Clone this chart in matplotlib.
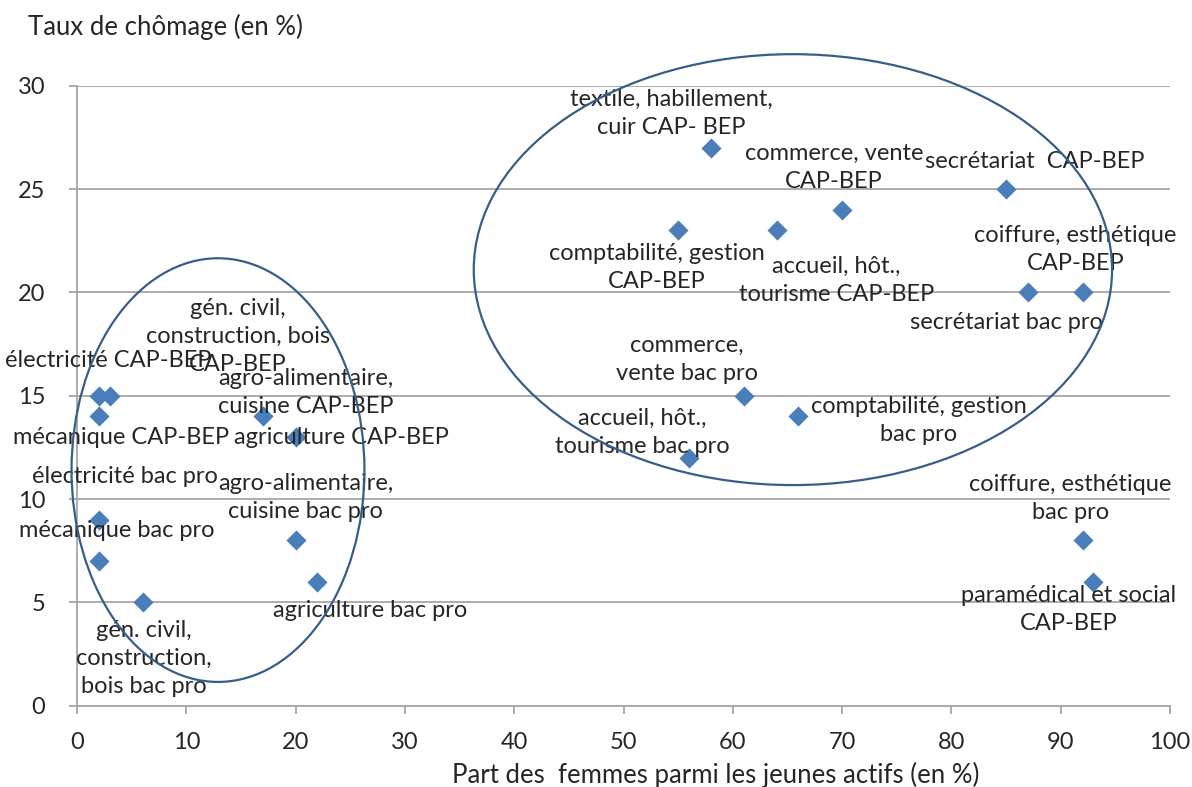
import matplotlib.pyplot as plt
from matplotlib.patches import Ellipse

plt.rcParams["font.family"] = ["Lato", "DejaVu Sans"]

# share of women among young workers (%) and unemployment rate (%)
women_share = [2, 3, 2, 2, 2, 6, 17, 20, 20, 22,
               58, 70, 85, 92, 87, 55, 64, 61, 66, 56, 92, 93]
unemployment = [15, 15, 14, 9, 7, 5, 14, 13, 8, 6,
                27, 24, 25, 20, 20, 23, 23, 15, 14, 12, 8, 6]
labels = [
    "électricité CAP-BEP",
    "gén. civil,\nconstruction, bois\nCAP-BEP",
    "mécanique CAP-BEP",
    "électricité bac pro",
    "mécanique bac pro",
    "gén. civil,\nconstruction,\nbois bac pro",
    "agro-alimentaire,\ncuisine CAP-BEP",
    "agriculture CAP-BEP",
    "agro-alimentaire,\ncuisine bac pro",
    "agriculture bac pro",
    "textile, habillement,\ncuir CAP- BEP",
    "commerce, vente\nCAP-BEP",
    "secrétariat  CAP-BEP",
    "coiffure, esthétique\nCAP-BEP",
    "secrétariat bac pro",
    "comptabilité, gestion\nCAP-BEP",
    "accueil, hôt.,\ntourisme CAP-BEP",
    "commerce,\nvente bac pro",
    "comptabilité, gestion\nbac pro",
    "accueil, hôt.,\ntourisme bac pro",
    "coiffure, esthétique\nbac pro",
    "paramédical et social\nCAP-BEP",
]

# label placement, offset from its point in pixels
label_offsets = [
    (9, 35), (128, 59), (22, -21), (26, 43), (18, 31), (1, -56),
    (43, 24), (46, 0), (10, 43), (53, -29),
    (-40, 34), (-8, 42), (29, 28), (-7, 43), (-21, -30), (-21, -37),
    (60, -50), (-57, 36), (120, -4), (-47, 25), (-12, 42), (-25, -28),
]

# hand-drawn groupings: (center x, center y, width, height)
groups = [(12.9, 11.4, 26.8, 20.5), (65.5, 21.1, 58.4, 20.85)]

text_col = "#262626"
grid_col = "#a6a6a6"

fig = plt.figure(figsize=(11.92, 7.87), dpi=100)
ax = fig.add_axes([77 / 1192, 1 - 705.7 / 787, (1170 - 77) / 1192, (705.7 - 85.7) / 787])

ax.scatter(women_share, unemployment, marker="D", s=105, color="#4a7ebb",
           linewidths=0, zorder=3)

for x, y, lab, (dx, dy) in zip(women_share, unemployment, labels, label_offsets):
    ax.annotate(lab, (x, y), xytext=(dx, dy), textcoords="offset pixels",
                ha="center", va="center", multialignment="center",
                fontsize=17, color=text_col, linespacing=1.42, zorder=4)

for cx, cy, w, h in groups:
    ax.add_patch(Ellipse((cx, cy), w, h, fill=False, edgecolor="#385d8a",
                         linewidth=1.6, clip_on=False, zorder=5))

ax.set_xlim(0, 100)
ax.set_ylim(0, 30)
ax.set_xticks(range(0, 101, 10))
ax.set_yticks(range(0, 31, 5))
ax.yaxis.grid(True, color=grid_col, linewidth=1.3)
ax.set_axisbelow(True)
for side in ["top", "right"]:
    ax.spines[side].set_visible(False)
for side in ["left", "bottom"]:
    ax.spines[side].set_color(grid_col)
    ax.spines[side].set_linewidth(1.3)
ax.tick_params(axis="both", colors=grid_col, length=6, width=1.3,
               labelsize=17, labelcolor=text_col)
ax.tick_params(axis="x", pad=13)
ax.tick_params(axis="y", pad=17)

fig.text(28 / 1192, 1 - 27 / 787, "Taux de chômage (en %)", fontsize=18.5,
         color=text_col, ha="left", va="center")
fig.text(716 / 1192, 1 - 775 / 787, "Part des  femmes parmi les jeunes actifs (en %)",
         fontsize=18.5, color=text_col, ha="center", va="center")

fig.savefig("out.png", dpi=100)
